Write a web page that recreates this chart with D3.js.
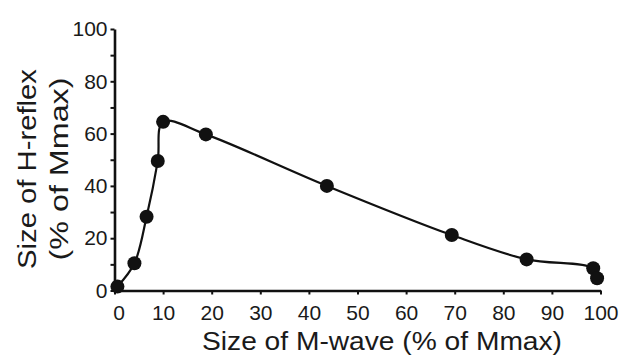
<!DOCTYPE html>
<html>
<head>
<meta charset="utf-8">
<script src="https://cdn.jsdelivr.net/npm/d3@7"></script>
<style>
  html, body { margin: 0; padding: 0; background: #fff; }
  svg { display: block; }
  text { font-family: "Liberation Sans", Arial, Helvetica, sans-serif; fill: #1a1a1a; }
</style>
</head>
<body>
<svg id="chart" width="633" height="359"></svg>
<script>
// Recruitment curve: H-reflex size against M-wave size, both as % of Mmax
const mWave   = [0.6, 4.1, 6.6, 8.9, 10.0, 18.8, 43.7, 69.4, 84.8, 98.5, 99.3];
const hReflex = [1.5, 10.4, 28.2, 49.5, 64.5, 59.7, 40.0, 21.2, 11.9, 8.5, 4.7];

const xTicks = [0, 10, 20, 30, 40, 50, 60, 70, 80, 90, 100];
const yTicks = [0, 20, 40, 60, 80, 100];
const yMinorTicks = [10, 30, 50, 70, 90];

const xTitle = "Size of M-wave (% of Mmax)";
const yTitleLines = ["Size of H-reflex", "(% of Mmax)"];

const points = mWave.map((m, i) => ({ m, h: hReflex[i] }));

const svg = d3.select("#chart");
const x = d3.scaleLinear().domain([0, 100]).range([114.5, 600.5]);
const y = d3.scaleLinear().domain([0, 100]).range([290.5, 29]);
const ink = "#111";

// y axis: labelled major ticks plus unlabelled minor ticks
svg.append("g").attr("transform", `translate(${x(0)},0)`)
  .call(d3.axisLeft(y).tickValues(yTicks).tickSize(4).tickSizeOuter(0).tickPadding(3));
svg.append("g").attr("transform", `translate(${x(0)},0)`)
  .call(d3.axisLeft(y).tickValues(yMinorTicks).tickSize(4).tickSizeOuter(0).tickFormat(""))
  .call(g => g.select(".domain").remove());

// x axis
const gx = svg.append("g").attr("transform", `translate(0,${y(0)})`)
  .call(d3.axisBottom(x).tickValues(xTicks).tickSize(4).tickSizeOuter(0).tickPadding(11));

svg.selectAll(".domain").attr("stroke", ink).attr("stroke-width", 2.6);
svg.selectAll(".tick line").attr("stroke", ink).attr("stroke-width", 2);
svg.selectAll(".tick text").style("font-size", "21px").style("font-family", null).attr("fill", "#1a1a1a");
gx.select(".tick text").attr("dx", "0.2em");

// curve through the points
const line = d3.line()
  .x(d => x(d.m))
  .y(d => y(d.h))
  .curve(d3.curveCatmullRom.alpha(0.5));

svg.append("path")
  .datum(points)
  .attr("fill", "none")
  .attr("stroke", ink)
  .attr("stroke-width", 2.2)
  .attr("d", line);

svg.append("g").selectAll("circle")
  .data(points)
  .join("circle")
  .attr("cx", d => x(d.m))
  .attr("cy", d => y(d.h))
  .attr("r", 7)
  .attr("fill", ink);

// axis titles
svg.append("text")
  .attr("x", 382).attr("y", 350)
  .attr("text-anchor", "middle")
  .attr("textLength", 360).attr("lengthAdjust", "spacingAndGlyphs")
  .style("font-size", "25px")
  .text(xTitle);

const yTitleSpecs = [
  { bx: 36, len: 200 },
  { bx: 68, len: 183 }
];
yTitleLines.forEach((t, i) => {
  svg.append("text")
    .attr("transform", `translate(${yTitleSpecs[i].bx},169) rotate(-90)`)
    .attr("text-anchor", "middle")
    .attr("textLength", yTitleSpecs[i].len).attr("lengthAdjust", "spacingAndGlyphs")
    .style("font-size", "25px")
    .text(t);
});
</script>
</body>
</html>
